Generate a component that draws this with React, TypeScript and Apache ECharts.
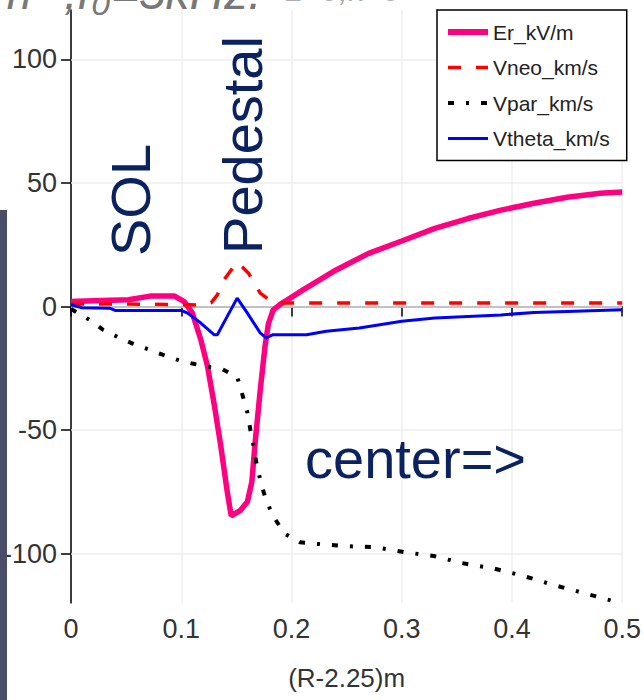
import React, { useEffect, useRef } from "react";
import * as echarts from "echarts";

// ---- data ----
const erX = [0, 0.02, 0.052, 0.073, 0.0935, 0.1027, 0.11, 0.1177, 0.1237, 0.13, 0.1357, 0.1417, 0.1453, 0.1537, 0.16, 0.164, 0.167, 0.1716, 0.176, 0.179, 0.1833, 0.19, 0.1956, 0.2105, 0.2405, 0.27, 0.3, 0.33, 0.36, 0.39, 0.42, 0.45, 0.48, 0.5];
const erY = [2, 2.3, 2.7, 4.3, 4.3, 2, -2.6, -13.4, -24, -40, -56, -75, -84.7, -82.5, -79, -71, -55, -34, -16, -7, -1.5, 1, 2.5, 6.7, 14.8, 21.5, 26.5, 31.6, 35.6, 39, 41.8, 44.2, 45.8, 46.3];

const vneoX = [0, 0.05, 0.1, 0.12, 0.127, 0.1327, 0.1387, 0.1507, 0.161, 0.1716, 0.182, 0.19, 0.25, 0.35, 0.45, 0.5];
const vneoY = [1, 1, 0.8, 0.5, 1.5, 4.7, 10.8, 18, 13.5, 5.4, 2, 1.4, 1.4, 1.4, 1.4, 1.4];

const vparX = [0, 0.019, 0.029, 0.044, 0.056, 0.071, 0.083, 0.098, 0.11, 0.125, 0.137, 0.1507, 0.155, 0.16, 0.1626, 0.1656, 0.1686, 0.173, 0.1776, 0.185, 0.194, 0.2075, 0.221, 0.2495, 0.275, 0.302, 0.329, 0.354, 0.383, 0.41, 0.437, 0.462, 0.49, 0.5];
const vparY = [-1, -6, -9.4, -12.7, -15, -17.5, -19.5, -21.8, -23.1, -24.4, -25.3, -28.5, -35, -43, -49.7, -56.5, -64.5, -72.6, -79.3, -86, -92, -95.4, -96, -97, -97.4, -99.4, -101, -103.8, -106, -109, -112.6, -115.6, -119, -120];

const vthX = [0, 0.01, 0.035, 0.04, 0.1, 0.1057, 0.1177, 0.1297, 0.1327, 0.1417, 0.1507, 0.16, 0.1716, 0.177, 0.1833, 0.2136, 0.2315, 0.2615, 0.3, 0.33, 0.36, 0.39, 0.42, 0.45, 0.5];
const vthY = [0.7, -0.5, -0.7, -1.6, -1.6, -2.7, -6.7, -11.4, -11.4, -4, 3.4, -2.7, -10.7, -12.7, -11.4, -11.4, -10, -8.7, -6, -4.7, -4, -3.4, -2.4, -2, -1.3];

const seriesNames = ["Er_kV/m", "Vneo_km/s", "Vpar_km/s", "Vtheta_km/s"];
const yTicks = [-100, -50, 0, 50, 100];
const xTitle = "(R-2.25)m";

const zip = (xs: number[], ys: number[]) => xs.map((x, i) => [x, ys[i]]);

const FONT = "Liberation Sans, Arial, sans-serif";
const NAVY = "#0b2261";

export default function App() {
  const ref = useRef<HTMLDivElement>(null);
  useEffect(() => {
    const chart = echarts.init(ref.current!, null, { renderer: "svg" });
    const option: any = {
      animation: false,
      backgroundColor: "#ffffff",
      grid: { left: 69, right: 18, top: 10, bottom: 97 },
      xAxis: {
        type: "value",
        min: 0,
        max: 0.5,
        interval: 0.1,
        name: xTitle,
        nameLocation: "middle",
        nameGap: 62,
        nameTextStyle: { fontSize: 26, color: "#333", fontFamily: FONT },
        axisLine: { show: true, lineStyle: { color: "#000", width: 1.5 } },
        axisTick: { show: true, length: 10, lineStyle: { color: "#000", width: 1.5 } },
        axisLabel: {
          fontSize: 27,
          color: "#333",
          fontFamily: FONT,
          margin: 12,
          formatter: (v: number) => (v === 0 ? "0" : v.toFixed(1)),
        },
        splitLine: { show: true, lineStyle: { color: "#eeeeee", width: 1.5 } },
      },
      yAxis: {
        type: "value",
        min: -120,
        max: 120,
        axisLine: { show: true, onZero: false, lineStyle: { color: "#000", width: 1.5 } },
        axisTick: { show: true, length: 10, customValues: yTicks, lineStyle: { color: "#000", width: 1.5 } },
        axisLabel: { customValues: yTicks, fontSize: 27, color: "#333", fontFamily: FONT, margin: 14 },
        splitLine: { show: false },
      },
      legend: {
        orient: "vertical",
        left: 437,
        top: 10,
        itemWidth: 40,
        itemHeight: 14,
        itemGap: 13.5,
        padding: [11, 17, 11, 8],
        borderColor: "#000",
        borderWidth: 1.5,
        backgroundColor: "#fff",
        itemStyle: { opacity: 0, borderWidth: 0 },
        textStyle: { fontSize: 21, lineHeight: 22, color: "#222", fontFamily: FONT },
        data: [
          { name: seriesNames[0], lineStyle: { width: 6 } },
          { name: seriesNames[1], lineStyle: { width: 3.5 } },
          { name: seriesNames[2], lineStyle: { width: 4 } },
          { name: seriesNames[3], lineStyle: { width: 3 } },
        ],
      },
      series: [
        {
          name: "grid",
          type: "line",
          data: [],
          silent: true,
          markLine: {
            silent: true,
            z: 1,
            symbol: "none",
            label: { show: false },
            lineStyle: { color: "#eeeeee", width: 1.5, type: "solid" },
            data: yTicks.map((v) => ({ yAxis: v })),
          },
        },
        {
          name: seriesNames[0],
          type: "line",
          symbol: "none",
          z: 2,
          data: zip(erX, erY),
          lineStyle: { color: "#ff0080", width: 5.5, type: "solid" },
          itemStyle: { color: "#ff0080" },
        },
        {
          name: seriesNames[1],
          type: "line",
          symbol: "none",
          z: 3,
          data: zip(vneoX, vneoY),
          lineStyle: { color: "#ff0000", width: 3.5, type: [13, 15] },
          itemStyle: { color: "#ff0000" },
        },
        {
          name: seriesNames[2],
          type: "line",
          symbol: "none",
          z: 4,
          data: zip(vparX, vparY),
          lineStyle: { color: "#000000", width: 4, type: [6, 12, 3, 12] },
          itemStyle: { color: "#000000" },
        },
        {
          name: seriesNames[3],
          type: "line",
          symbol: "none",
          z: 5,
          data: zip(vthX, vthY),
          lineStyle: { color: "#0000ff", width: 3, type: "solid" },
          itemStyle: { color: "#0000ff" },
        },
      ],
      graphic: [
        { type: "rect", left: 0, top: 210, shape: { width: 7, height: 490 }, style: { fill: "#4a4d68" }, z: 10 },
        {
          type: "text",
          x: -8,
          y: 16,
          style: {
            text: "m⁻³,f₀=5kHz.",
            font: `italic 48px ${FONT}`,
            fill: "#777777",
            align: "left",
            verticalAlign: "bottom",
          },
          z: 10,
        },
        {
          type: "text",
          x: 285,
          y: 6,
          style: {
            text: "L=0,k=0",
            font: `italic 32px ${FONT}`,
            fill: "#aaaaaa",
            align: "left",
            verticalAlign: "bottom",
          },
          z: 10,
        },
        {
          type: "text",
          x: 130,
          y: 200,
          rotation: Math.PI / 2,
          style: { text: "SOL", font: `56px ${FONT}`, fill: NAVY, align: "center", verticalAlign: "middle" },
          z: 10,
        },
        {
          type: "text",
          x: 242,
          y: 145,
          rotation: Math.PI / 2,
          style: { text: "Pedestal", font: `56px ${FONT}`, fill: NAVY, align: "center", verticalAlign: "middle" },
          z: 10,
        },
        {
          type: "text",
          x: 305,
          y: 458,
          style: { text: "center=>", font: `56px ${FONT}`, fill: NAVY, align: "left", verticalAlign: "middle" },
          z: 10,
        },
      ],
    };
    chart.setOption(option);
    return () => chart.dispose();
  }, []);
  return (
    <div
      ref={ref}
      style={{ position: "absolute", left: 0, top: 0, width: 644, height: 700 }}
    />
  );
}
